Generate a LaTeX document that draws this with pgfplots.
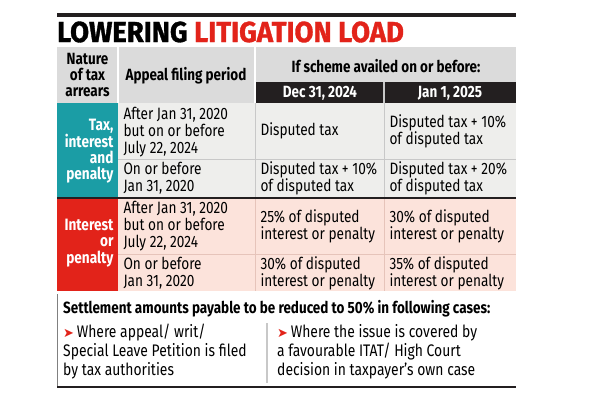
\documentclass[border=0pt]{standalone}
\usepackage{fontspec}
\usepackage{pgfplots}
\pgfplotsset{compat=1.18}
\setmainfont{Fira Sans}[FakeStretch=0.83]
\newfontfamily\titlefont{Fira Sans}[FakeStretch=0.95, FakeBold=1.2]
\newfontfamily\symfont{DejaVu Sans}

\definecolor{tred}{HTML}{E2231A}
\definecolor{tteal}{HTML}{1B9DA5}
\definecolor{hgray}{HTML}{DBDBDB}
\definecolor{rgray}{HTML}{EEEEEC}
\definecolor{rpink}{HTML}{FCE3DB}
\definecolor{ink}{HTML}{231F20}
\definecolor{sepg}{HTML}{C8C8C8}
\definecolor{sepp}{HTML}{E6C4BA}

\newcommand\bodyf{\fontsize{16.5}{16.8}\selectfont}
\newcommand\headf{\fontsize{16.3}{16.5}\selectfont\bfseries}
\newcommand\arr{{\symfont\color{tred}\fontsize{13}{13}\selectfont ➤}\,}

\begin{document}
\begin{tikzpicture}
\begin{axis}[
  scale only axis, width=600bp, height=406bp,
  xmin=0, xmax=600, ymin=0, ymax=406, y dir=reverse,
  hide axis, clip=false,
  every node/.style={text=ink},
]
% background and cell fills
\addplot[fill=white, draw=none] coordinates {(0,0) (600,0) (600,406) (0,406)} -- cycle;
\addplot[fill=hgray, draw=none] coordinates {(57,47) (516,47) (516,103) (57,103)} -- cycle;
\addplot[fill=ink, draw=none] coordinates {(256,82) (516,82) (516,103) (256,103)} -- cycle;
\addplot[fill=rgray, draw=none] coordinates {(118,103) (516,103) (516,197) (118,197)} -- cycle;
\addplot[fill=tteal, draw=none] coordinates {(57,103) (118,103) (118,197) (57,197)} -- cycle;
\addplot[fill=rpink, draw=none] coordinates {(118,199) (516,199) (516,291) (118,291)} -- cycle;
\addplot[fill=tred, draw=none] coordinates {(57,199) (118,199) (118,291) (57,291)} -- cycle;

% rules
\addplot[ink, line width=3.5bp] coordinates {(57,15) (516,15)};
\addplot[white, line width=1.5bp] coordinates {(118,47) (118,103)};
\addplot[white, line width=1.5bp] coordinates {(255,47) (255,103)};
\addplot[sepg, line width=1.2bp] coordinates {(384,82) (384,103)};
\addplot[sepg, line width=1bp] coordinates {(118,159) (516,159)};
\addplot[sepg, line width=1bp] coordinates {(255,103) (255,197)};
\addplot[sepg, line width=1bp] coordinates {(384,103) (384,197)};
\addplot[sepp, line width=1bp] coordinates {(118,254) (516,254)};
\addplot[sepp, line width=1bp] coordinates {(255,199) (255,291)};
\addplot[sepp, line width=1bp] coordinates {(384,199) (384,291)};
\addplot[ink, line width=2.5bp] coordinates {(57,198) (516,198)};
\addplot[gray, line width=1bp] coordinates {(57.5,294) (57.5,387)};
\addplot[ink, line width=2.5bp] coordinates {(57,387) (516,387)};
\addplot[sepg, line width=1.5bp] coordinates {(267,323) (267,383)};

% title
\node[anchor=base west, inner sep=0pt, font=\titlefont\fontsize{29}{29}\selectfont\bfseries] at (axis cs:57,42)
  {LOWERING \textcolor{tred}{LITIGATION LOAD}};

% header
\node[align=center, font=\headf] at (axis cs:87.5,75) {Nature\\of tax\\arrears};
\node[font=\headf] at (axis cs:186,76) {Appeal filing period};
\node[font=\headf] at (axis cs:386,66) {If scheme availed on or before:};
\node[text=white, font=\headf] at (axis cs:320,93) {Dec 31, 2024};
\node[text=white, font=\headf] at (axis cs:450,93) {Jan 1, 2025};

% side labels
\node[anchor=east, align=right, text=white, font=\fontsize{16.5}{15.7}\selectfont\bfseries] at (axis cs:117,151)
  {Tax,\\interest\\and\\penalty};
\node[anchor=east, align=right, text=white, font=\fontsize{16.5}{16.5}\selectfont\bfseries] at (axis cs:117,243)
  {Interest\\or\\penalty};

% rows
\begin{scope}[every node/.append style={anchor=west, align=left, font=\bodyf}]
\node at (axis cs:120,132) {After Jan 31, 2020\\but on or before\\July 22, 2024};
\node at (axis cs:257,131) {Disputed tax};
\node at (axis cs:386,131) {Disputed tax + 10\%\\of disputed tax};

\node at (axis cs:120,178) {On or before\\Jan 31, 2020};
\node at (axis cs:257,178) {Disputed tax + 10\%\\of disputed tax};
\node at (axis cs:386,178) {Disputed tax + 20\%\\of disputed tax};

\node at (axis cs:120,226) {After Jan 31, 2020\\but on or before\\July 22, 2024};
\node at (axis cs:257,226) {25\% of disputed\\interest or penalty};
\node at (axis cs:386,226) {30\% of disputed\\interest or penalty};

\node at (axis cs:120,273) {On or before\\Jan 31, 2020};
\node at (axis cs:257,273) {30\% of disputed\\interest or penalty};
\node at (axis cs:386,273) {35\% of disputed\\interest or penalty};
\end{scope}

% bottom box
\node[anchor=base west, inner sep=0pt, font=\headf] at (axis cs:63,313)
  {Settlement amounts payable to be reduced to 50\% in following cases:};
\node[anchor=base west, inner sep=0pt, align=left, font=\fontsize{16.8}{19}\selectfont] at (axis cs:63,375)
  {\arr Where appeal/ writ/\\Special Leave Petition is filed\\by tax authorities};
\node[anchor=base west, inner sep=0pt, align=left, font=\fontsize{16.8}{19}\selectfont] at (axis cs:277,375)
  {\arr Where the issue is covered by\\a favourable ITAT/ High Court\\decision in taxpayer’s own case};
\end{axis}
\end{tikzpicture}
\end{document}
